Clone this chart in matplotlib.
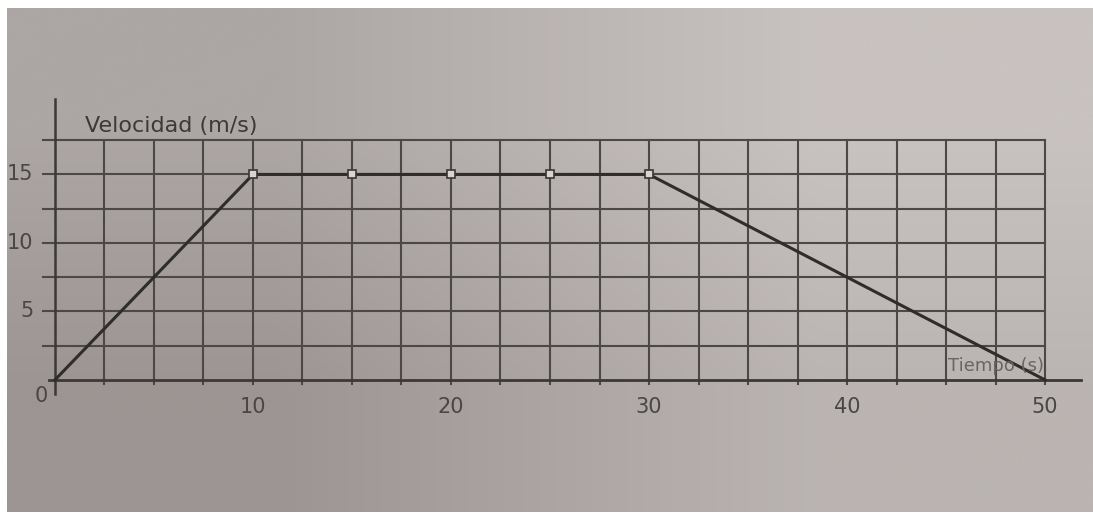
#!/usr/bin/env python3
"""Velocity-time graph (textbook photo style): accelerate, cruise, brake."""

import matplotlib

matplotlib.use("Agg")
import matplotlib.pyplot as plt
import numpy as np

# data
tiempo = [0, 10, 15, 20, 25, 30, 50]
velocidad = [0, 15, 15, 15, 15, 15, 0]
marked = [10, 15, 20, 25, 30]
x_ticks = [0, 10, 20, 30, 40, 50]
x_tick_labels = ["0", "10", "20", "30", "40", "50"]
y_ticks = [5, 10, 15]
y_tick_labels = ["5", "10", "15"]
grid_x = np.arange(2.5, 50.1, 2.5)
grid_y = np.arange(2.5, 17.6, 2.5)

INK = "#3b3838"
GRID = "#4d4848"
EXTENT = (-2.42, 52.42, -9.64, 27.15)

fig = plt.figure(figsize=(10.93, 5.16), dpi=100, facecolor="white")
ax = fig.add_axes([7 / 1093, 4 / 516, 1086 / 1093, 504 / 516])
ax.set_xlim(EXTENT[0], EXTENT[1])
ax.set_ylim(EXTENT[2], EXTENT[3])
ax.axis("off")

# warm paper background, darker to the lower left like the photo
corners = np.array([
    [[172, 166, 165], [200, 194, 192]],
    [[156, 149, 147], [186, 180, 178]],
]) / 255.0
ax.imshow(corners, extent=EXTENT, interpolation="bilinear", aspect="auto", zorder=0)

# grid
for gx in grid_x:
    ax.plot([gx, gx], [-0.3, 17.5], color=GRID, lw=1.5, zorder=1)
for gy in grid_y:
    ax.plot([-0.6, 50], [gy, gy], color=GRID, lw=1.5, zorder=1)

# axes
ax.plot([0, 0], [-1.0, 20.5], color=INK, lw=1.8, zorder=2)
ax.plot([-0.3, 51.8], [0, 0], color=INK, lw=2.0, zorder=2)

# curve
ax.plot(tiempo, velocidad, color="#2f2c2c", lw=2.2, zorder=3)
ax.plot(marked, [15] * len(marked), ls="none", marker="s", ms=6,
        mfc="#d8d4d2", mec="#3a3636", mew=1.2, zorder=4)

# tick labels
for xv, lab in zip(x_ticks, x_tick_labels):
    xx = -0.7 if xv == 0 else xv
    yy = -1.2 if xv == 0 else -2.0
    ax.text(xx, yy, lab, ha="center", va="center", fontsize=15, color="#4a4646", zorder=5)
for yv, lab in zip(y_ticks, y_tick_labels):
    ax.text(-1.1, yv, lab, ha="right", va="center", fontsize=15, color="#4a4646", zorder=5)

ax.text(1.5, 18.5, "Velocidad (m/s)", ha="left", va="center", fontsize=16,
        color="#3d3939", zorder=5)
ax.text(47.5, 1.0, "Tiempo (s)", ha="center", va="center", fontsize=13,
        color="#6a6464", zorder=5)

fig.savefig("out.png", dpi=100, facecolor="white")
